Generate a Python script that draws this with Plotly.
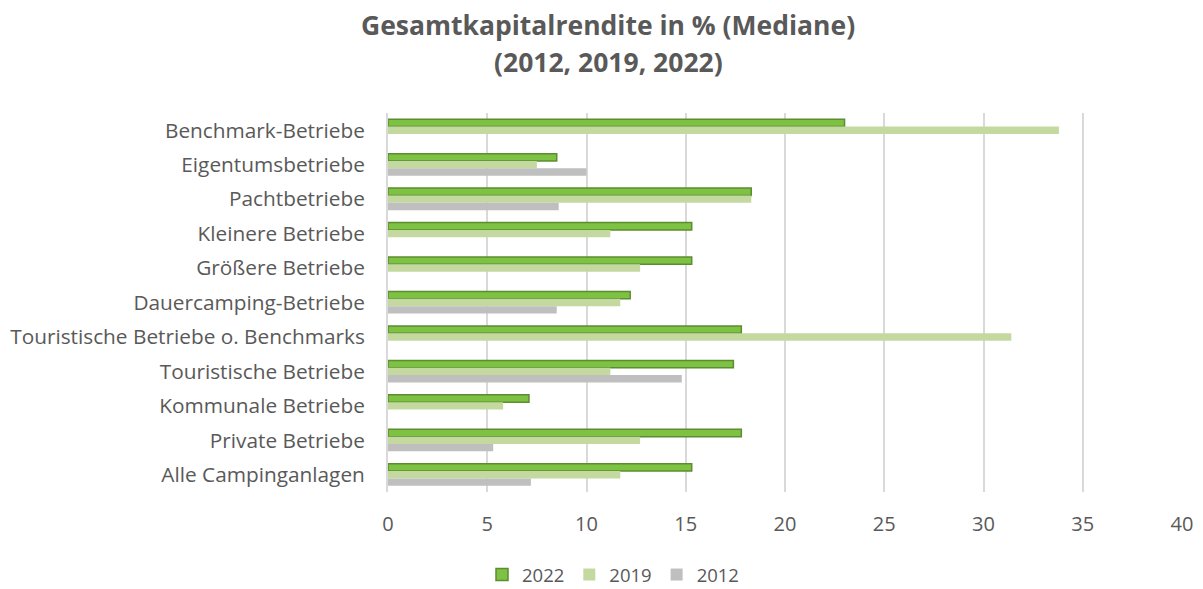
import plotly.graph_objects as go

categories = [
    "Benchmark-Betriebe",
    "Eigentumsbetriebe",
    "Pachtbetriebe",
    "Kleinere Betriebe",
    "Größere Betriebe",
    "Dauercamping-Betriebe",
    "Touristische Betriebe o. Benchmarks",
    "Touristische Betriebe",
    "Kommunale Betriebe",
    "Private Betriebe",
    "Alle Campinganlagen",
]
v2022 = [23.0, 8.5, 18.3, 15.3, 15.3, 12.2, 17.8, 17.4, 7.1, 17.8, 15.3]
v2019 = [33.8, 7.5, 18.3, 11.2, 12.7, 11.7, 31.4, 11.2, 5.8, 12.7, 11.7]
v2012 = [None, 10.0, 8.6, None, None, 8.5, None, 14.8, None, 5.3, 7.2]
title_lines = ["Gesamtkapitalrendite in % (Mediane)", "(2012, 2019, 2022)"]

FONT = "Open Sans"
GREY = "#595959"
W, H = 1203, 589
L, R, T, B = 388, 21, 113, 97

fig = go.Figure()
fig.add_trace(go.Bar(y=categories, x=v2022, name="2022", orientation="h",
                     marker=dict(color="#7dc242", line=dict(color="#5e8c31", width=1.5))))
fig.add_trace(go.Bar(y=categories, x=v2019, name="2019", orientation="h",
                     marker=dict(color="#c4d9a0", line=dict(width=0))))
fig.add_trace(go.Bar(y=categories, x=v2012, name="2012", orientation="h",
                     marker=dict(color="#bfbfbf", line=dict(width=0))))

ph = H - T - B
for i, (txt, ypx) in enumerate(zip(title_lines, [25, 62])):
    fig.add_annotation(text="<b>" + txt + "</b>", xref="paper", yref="paper",
                       x=(608 - L) / (W - L - R), y=(H - B - ypx) / ph,
                       xanchor="center", yanchor="middle", showarrow=False,
                       font=dict(family=FONT, size=26.5, color=GREY))

fig.update_layout(
    width=W, height=H,
    paper_bgcolor="white", plot_bgcolor="white",
    barmode="group", bargap=0.36, bargroupgap=0.0,
    margin=dict(l=L, r=R, t=T, b=B, autoexpand=False),
    font=dict(family=FONT, color=GREY, size=20),
    xaxis=dict(range=[0, 40], dtick=5, showgrid=True, gridcolor="#d9d9d9", gridwidth=2,
               zeroline=False, showline=False, ticks="", tickfont=dict(size=20, color=GREY),
               ticklabelstandoff=18),
    yaxis=dict(autorange="reversed", showgrid=False, zeroline=False, showline=True,
               linecolor="#d9d9d9", linewidth=2, ticks="", ticklabelstandoff=17,
               tickfont=dict(size=20.8, color=GREY)),
    legend=dict(orientation="h", x=(613 - L) / (W - L - R), xanchor="center",
                y=-(575 - (H - B)) / ph, yanchor="middle",
                font=dict(size=18.5, color=GREY), itemwidth=30, traceorder="normal",
                tracegroupgap=0),
)

fig.write_html("out.html", post_script="document.body.style.margin='0';",
               config={"displayModeBar": False})
